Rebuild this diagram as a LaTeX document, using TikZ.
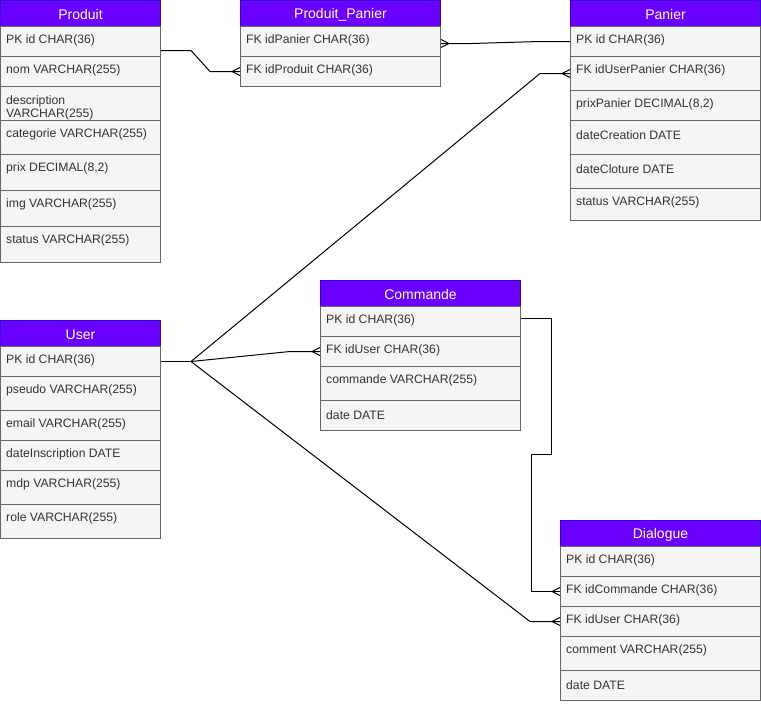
\documentclass[tikz,border=0pt]{standalone}
\usepackage{fontspec}
\setmainfont{Liberation Sans}
\definecolor{hdfill}{HTML}{6A00FF}
\definecolor{hdline}{HTML}{3700CC}
\definecolor{rwfill}{HTML}{F5F5F5}
\definecolor{rwline}{HTML}{666666}
\definecolor{rwtext}{HTML}{333333}
\tikzset{
  erow/.style={draw=rwline, fill=rwfill, line width=1pt, inner sep=0pt, rectangle},
  ehead/.style={draw=hdline, fill=hdfill, line width=1pt, inner sep=0pt, rectangle},
  ehtxt/.style={text=white, inner sep=0pt, font=\fontsize{14}{16}\selectfont},
  etxt/.style={text=rwtext, inner sep=0pt, font=\fontsize{12.2}{13}\selectfont, align=left},
  conn/.style={draw=black, line width=1pt},
}
\newcommand\ERhead[5]{\node[ehead, minimum width=#3pt, minimum height=26pt, anchor=north west] (#4) at (#1,#2) {};
  \node[ehtxt] (#4-t) at ([yshift=-1pt]#4.center) {#5};}
\newcommand\ERrow[6]{\node[erow, minimum width=#3pt, minimum height=#4pt, anchor=north west] (#5) at (#1,#2) {};
  \node[etxt, anchor=west] (#5-t) at ([xshift=6pt,yshift=-14.8pt]#5.north west) {#6};}
% crow's foot at point #1; #2 = 1 when the table is to the right, -1 when it is to the left
\newcommand\crow[2]{\draw[conn] ([xshift=-8*#2 pt]#1) -- ([yshift=4pt]#1) ([xshift=-8*#2 pt]#1) -- ([yshift=-4pt]#1);}
\begin{document}
\begin{tikzpicture}[x=1pt,y=-1pt]
\useasboundingbox (0,0) rectangle (761,704);
% Produit
\ERhead{0}{0}{160}{prod}{Produit}
\ERrow{0}{26}{160}{30}{prod-pk}{PK id CHAR(36)}
\ERrow{0}{56}{160}{30}{prod-nom}{nom VARCHAR(255)}
\node[erow, minimum width=160pt, minimum height=34pt, anchor=north west] (prod-desc) at (0,86) {};
\node[etxt, anchor=north west] (prod-desc-t) at ([xshift=6pt,yshift=-9.5pt]prod-desc.north west) {description\\VARCHAR(255)};
\ERrow{0}{120}{160}{34}{prod-cat}{categorie VARCHAR(255)}
\ERrow{0}{154}{160}{36}{prod-prix}{prix DECIMAL(8,2)}
\ERrow{0}{190}{160}{36}{prod-img}{img VARCHAR(255)}
\ERrow{0}{226}{160}{36}{prod-status}{status VARCHAR(255)}
% Produit_Panier
\ERhead{240}{0}{200}{pp}{Produit\_Panier}
\ERrow{240}{26}{200}{30}{pp-panier}{FK idPanier CHAR(36)}
\ERrow{240}{56}{200}{30}{pp-produit}{FK idProduit CHAR(36)}
% Panier
\ERhead{570}{0}{190}{pan}{Panier}
\ERrow{570}{26}{190}{30}{pan-pk}{PK id CHAR(36)}
\ERrow{570}{56}{190}{34}{pan-user}{FK idUserPanier CHAR(36)}
\ERrow{570}{90}{190}{30}{pan-prix}{prixPanier DECIMAL(8,2)}
\ERrow{570}{120}{190}{34}{pan-crea}{dateCreation DATE}
\ERrow{570}{154}{190}{34}{pan-clot}{dateCloture DATE}
\ERrow{570}{188}{190}{32}{pan-status}{status VARCHAR(255)}
% User
\ERhead{0}{320}{160}{usr}{User}
\ERrow{0}{346}{160}{30}{usr-pk}{PK id CHAR(36)}
\ERrow{0}{376}{160}{34}{usr-pseudo}{pseudo VARCHAR(255)}
\ERrow{0}{410}{160}{30}{usr-email}{email VARCHAR(255)}
\ERrow{0}{440}{160}{30}{usr-date}{dateInscription DATE}
\ERrow{0}{470}{160}{34}{usr-mdp}{mdp VARCHAR(255)}
\ERrow{0}{504}{160}{34}{usr-role}{role VARCHAR(255)}
% Commande
\ERhead{320}{280}{200}{cmd}{Commande}
\ERrow{320}{306}{200}{30}{cmd-pk}{PK id CHAR(36)}
\ERrow{320}{336}{200}{30}{cmd-user}{FK idUser CHAR(36)}
\ERrow{320}{366}{200}{34}{cmd-cmd}{commande VARCHAR(255)}
\ERrow{320}{400}{200}{30}{cmd-date}{date DATE}
% Dialogue
\ERhead{560}{520}{200}{dia}{Dialogue}
\ERrow{560}{546}{200}{30}{dia-pk}{PK id CHAR(36)}
\ERrow{560}{576}{200}{30}{dia-cmd}{FK idCommande CHAR(36)}
\ERrow{560}{606}{200}{30}{dia-user}{FK idUser CHAR(36)}
\ERrow{560}{636}{200}{34}{dia-comment}{comment VARCHAR(255)}
\ERrow{560}{670}{200}{30}{dia-date}{date DATE}
% connectors
\coordinate (c1a) at ([yshift=-9pt]prod-pk.east);
\coordinate (c1b) at (pp-produit.west);
\draw[conn] (c1a) -- ++(30,0) -- ([xshift=-30pt]c1b) -- (c1b);
\crow{c1b}{1}
\coordinate (c2a) at ([yshift=-2pt]pp-panier.east);
\coordinate (c2b) at (pan-pk.west);
\draw[conn] (c2a) -- ([xshift=30pt]c2a) -- ([xshift=-30pt]c2b) -- (c2b);
\crow{c2a}{-1}
\coordinate (hub) at ([xshift=30pt]usr-pk.east);
\draw[conn] (usr-pk.east) -- (hub);
\draw[conn] (hub) -- ([xshift=-30pt]pan-user.west) -- (pan-user.west);
\crow{pan-user.west}{1}
\draw[conn] (hub) -- ([xshift=-30pt]cmd-user.west) -- (cmd-user.west);
\crow{cmd-user.west}{1}
\draw[conn] (hub) -- ([xshift=-30pt]dia-user.west) -- (dia-user.west);
\crow{dia-user.west}{1}
\coordinate (c4a) at ([yshift=3pt]cmd-pk.east);
\draw[conn] (c4a) -- ++(30,0) -- ++(0,136) -- ++(-20,0) |- (dia-cmd.west);
\crow{dia-cmd.west}{1}
\end{tikzpicture}
\end{document}
